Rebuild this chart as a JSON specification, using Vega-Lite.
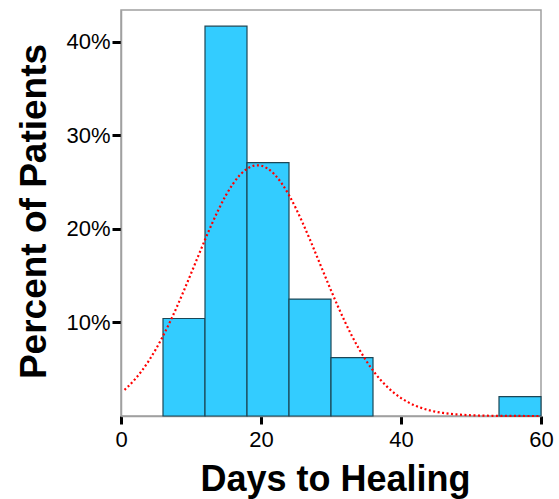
{
  "$schema": "https://vega.github.io/schema/vega-lite/v6.json",
  "autosize": "none",
  "width": 420,
  "height": 406,
  "padding": {"left": 121, "top": 10, "right": 18, "bottom": 83},
  "background": "white",
  "config": {
    "font": "Liberation Sans",
    "view": {"stroke": "#a0a0a0", "strokeWidth": 1.5},
    "axis": {"grid": false}
  },
  "datasets": {
    "bins": [
      {"start": 6, "end": 12, "percent": 10.42},
      {"start": 12, "end": 18, "percent": 41.67},
      {"start": 18, "end": 24, "percent": 27.08},
      {"start": 24, "end": 30, "percent": 12.5},
      {"start": 30, "end": 36, "percent": 6.25},
      {"start": 54, "end": 60, "percent": 2.08}
    ],
    "curve": [
      {"days": 0.5, "pct": 2.79}, {"days": 1, "pct": 3.14}, {"days": 2, "pct": 3.93},
      {"days": 3, "pct": 4.86}, {"days": 4, "pct": 5.94}, {"days": 5, "pct": 7.17},
      {"days": 6, "pct": 8.55}, {"days": 7, "pct": 10.06}, {"days": 8, "pct": 11.7},
      {"days": 9, "pct": 13.43}, {"days": 10, "pct": 15.22}, {"days": 11, "pct": 17.04},
      {"days": 12, "pct": 18.84}, {"days": 13, "pct": 20.56}, {"days": 14, "pct": 22.17},
      {"days": 15, "pct": 23.61}, {"days": 16, "pct": 24.82}, {"days": 17, "pct": 25.77},
      {"days": 18, "pct": 26.42}, {"days": 19, "pct": 26.76}, {"days": 19.5, "pct": 26.8},
      {"days": 20, "pct": 26.76}, {"days": 21, "pct": 26.42}, {"days": 22, "pct": 25.77},
      {"days": 23, "pct": 24.82}, {"days": 24, "pct": 23.61}, {"days": 25, "pct": 22.17},
      {"days": 26, "pct": 20.56}, {"days": 27, "pct": 18.84}, {"days": 28, "pct": 17.04},
      {"days": 29, "pct": 15.22}, {"days": 30, "pct": 13.43}, {"days": 31, "pct": 11.7},
      {"days": 32, "pct": 10.06}, {"days": 33, "pct": 8.55}, {"days": 34, "pct": 7.17},
      {"days": 35, "pct": 5.94}, {"days": 36, "pct": 4.86}, {"days": 37, "pct": 3.93},
      {"days": 38, "pct": 3.14}, {"days": 39, "pct": 2.47}, {"days": 40, "pct": 1.92},
      {"days": 41, "pct": 1.48}, {"days": 42, "pct": 1.12}, {"days": 43, "pct": 0.84},
      {"days": 44, "pct": 0.62}, {"days": 45, "pct": 0.45}, {"days": 46, "pct": 0.33},
      {"days": 47, "pct": 0.23}, {"days": 48, "pct": 0.165}, {"days": 49, "pct": 0.114},
      {"days": 50, "pct": 0.079}, {"days": 52, "pct": 0.036}, {"days": 54, "pct": 0.015},
      {"days": 56, "pct": 0.006}, {"days": 58, "pct": 0.002}, {"days": 60, "pct": 0.001}
    ]
  },
  "layer": [
    {
      "data": {"name": "bins"},
      "mark": {"type": "rect", "fill": "#33ccff", "stroke": "#1c4656", "strokeWidth": 1.2},
      "encoding": {
        "x": {
          "field": "start", "type": "quantitative",
          "scale": {"domain": [0, 60], "nice": false, "zero": true},
          "axis": {
            "values": [0, 20, 40, 60],
            "title": "Days to Healing",
            "titleFontSize": 36, "titleFontWeight": "bold", "titleColor": "black",
            "titleX": 214, "titleY": 74, "titleBaseline": "alphabetic", "titleAlign": "center",
            "labelFontSize": 22, "labelColor": "black", "labelPadding": 5,
            "labelFlush": false,
            "domainColor": "#a0a0a0", "domainWidth": 1.5,
            "tickColor": "black", "tickWidth": 3, "tickSize": 8
          }
        },
        "x2": {"field": "end"},
        "y": {
          "field": "percent", "type": "quantitative",
          "scale": {"domain": [0, 43.4], "nice": false},
          "axis": {
            "values": [10, 20, 30, 40],
            "labelExpr": "datum.value + '%'",
            "title": "Percent of Patients",
            "titleFontSize": 37, "titleFontWeight": "bold", "titleColor": "black",
            "titleAngle": -90, "titleX": -76, "titleY": 201,
            "titleBaseline": "alphabetic", "titleAlign": "center",
            "labelFontSize": 22, "labelColor": "black", "labelPadding": 2,
            "domainColor": "#a0a0a0", "domainWidth": 1.5,
            "tickColor": "black", "tickWidth": 3, "tickSize": 9
          }
        },
        "y2": {"datum": 0}
      }
    },
    {
      "data": {"name": "curve"},
      "mark": {"type": "line", "color": "#ff0000", "strokeWidth": 2.2, "strokeDash": [2, 2.5], "interpolate": "monotone"},
      "encoding": {
        "x": {"field": "days", "type": "quantitative"},
        "y": {"field": "pct", "type": "quantitative"}
      }
    }
  ]
}
